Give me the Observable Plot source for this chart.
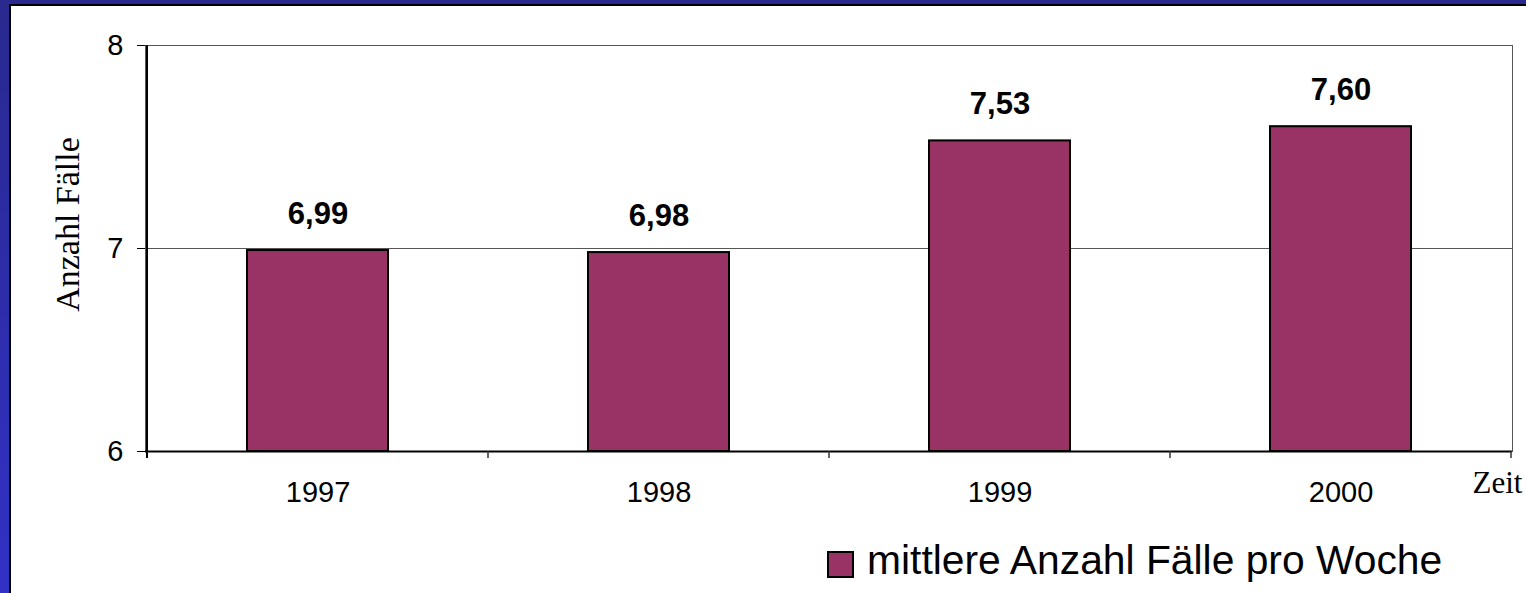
<!DOCTYPE html>
<html>
<head>
<meta charset="utf-8">
<script src="https://cdn.jsdelivr.net/npm/d3@7"></script>
<script src="https://cdn.jsdelivr.net/npm/@observablehq/plot@0.6"></script>
<style>
  html, body { margin: 0; padding: 0; width: 1526px; height: 593px; overflow: hidden; }
  body { position: relative; background: linear-gradient(to bottom, #29298f, #3131c6); }
  #panel { position: absolute; left: 9px; top: 4px; width: 1515px; height: 587px; background: #fff;
           border-left: 2px solid #000; border-top: 2px solid #000; }
  #chart { position: absolute; left: 0; top: 0; }
  #legend-swatch { position: absolute; left: 816px; top: 545px; width: 23px; height: 23px;
                   border: 2px solid #000; }
  #legend-text { position: absolute; left: 856px; top: 534px; font-family: "Liberation Sans", Arial, sans-serif;
                 font-size: 40.8px; line-height: 40px; color: #000; white-space: nowrap; }
</style>
</head>
<body>
<div id="panel">
  <div id="chart"></div>
  <div id="legend-swatch"></div>
  <div id="legend-text"></div>
</div>
<script>
// ---- data ----
const years = ["1997", "1998", "1999", "2000"];
const values = [6.99, 6.98, 7.53, 7.60];
const yTicks = [6, 7, 8];
const seriesName = "mittlere Anzahl Fälle pro Woche";
const yLabel = "Anzahl Fälle";
const xLabel = "Zeit";
const barColor = "#993366";

const data = years.map((year, i) => ({year, value: values[i]}));
const fmt = v => v.toFixed(2).replace(".", ",");
const sans = "'Liberation Sans', Arial, sans-serif";
const serif = "'Liberation Serif', 'Times New Roman', serif";

const boundaryMark = Plot.ruleX(years, {
  x: d => d,
  render: (index, scales) => {
    const x = scales.x;
    const pad = (x.step() - x.bandwidth()) / 2;
    const bounds = years.map(yr => x(yr) - pad);
    bounds.push(x(years[years.length - 1]) + x.bandwidth() + pad);
    const yb = scales.y(yTicks[0]);
    const yt = scales.y(yTicks[yTicks.length - 1]);
    const g = d3.create("svg:g");
    g.selectAll("line").data(bounds).join("line")
      .attr("x1", d => d).attr("x2", d => d)
      .attr("y1", (d, i) => i === 0 ? yt : yb)
      .attr("y2", yb + 7)
      .attr("stroke", (d, i) => i === 0 ? "#000" : "#333")
      .attr("stroke-width", (d, i) => i === 0 ? 2 : 1.5);
    return g.node();
  }
});

const chart = Plot.plot({
  width: 1515,
  height: 505,
  marginLeft: 134,
  marginRight: 14,
  marginTop: 39,
  marginBottom: 60,
  style: {fontFamily: sans, background: "#fff", overflow: "visible", color: "#000"},
  x: {domain: years, paddingInner: 0.587, paddingOuter: 0.2935, axis: null},
  y: {domain: [yTicks[0], yTicks[yTicks.length - 1]], axis: null},
  marks: [
    Plot.frame({stroke: "#555", strokeWidth: 1}),
    Plot.gridY(yTicks.slice(1), {stroke: "#555", strokeOpacity: 1, strokeWidth: 1}),
    Plot.barY(data, {x: "year", y1: yTicks[0], y2: "value", fill: barColor, stroke: "#000", strokeWidth: 2}),
    Plot.ruleY([yTicks[0]], {stroke: "#000", strokeWidth: 2}),
    boundaryMark,
    Plot.text(data, {x: "year", y: "value", text: d => fmt(d.value), dy: -27, lineAnchor: "bottom",
                     fontSize: 31, fontWeight: "bold", fill: "#000"}),
    Plot.axisY(yTicks, {tickSize: 8, tickPadding: 14, fontSize: 29, label: null, tickFormat: d => String(d)}),
    Plot.axisX({tickSize: 0, tickPadding: 30, fontSize: 29, label: null}),
    Plot.text([yLabel], {frameAnchor: "left", rotate: -90, dx: -77, dy: -24, lineAnchor: "middle",
                         textAnchor: "middle", fontFamily: serif, fontSize: 34, fill: "#000"}),
    Plot.text([xLabel], {frameAnchor: "bottom-right", textAnchor: "start", dx: -40, dy: 41, lineAnchor: "bottom",
                         fontFamily: serif, fontSize: 31, fill: "#000"})
  ]
});
document.getElementById("chart").appendChild(chart);
document.getElementById("legend-swatch").style.background = barColor;
document.getElementById("legend-text").textContent = seriesName;
</script>
</body>
</html>
